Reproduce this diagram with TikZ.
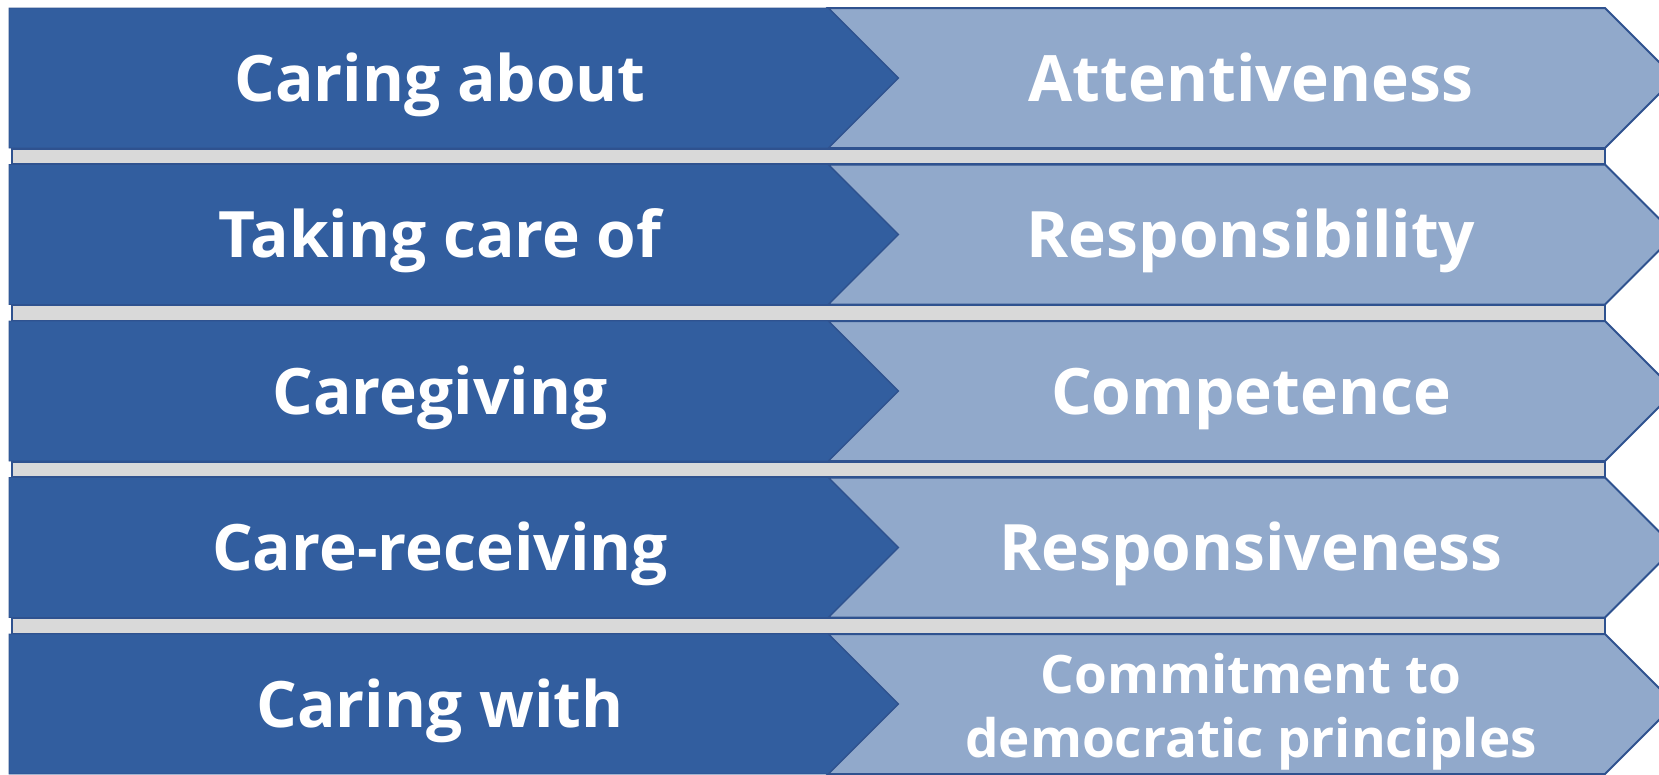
\documentclass[tikz,border=0pt]{standalone}
\usepackage{fontspec}
\setmainfont{Open Sans}
\usepackage{tikz}
\usetikzlibrary{positioning,calc}
\definecolor{ckDark}{RGB}{50,94,159}
\definecolor{ckLight}{RGB}{145,169,203}
\definecolor{ckLine}{RGB}{47,82,143}
\definecolor{ckBar}{RGB}{217,217,217}

\begin{document}
\begin{tikzpicture}[
  x=1pt, y=-1pt,
  darkarr/.style={fill=ckDark, draw=ckLine, line width=0.8pt},
  lightarr/.style={fill=ckLight, draw=ckLine, line width=2pt, line join=miter},
  sepbar/.style={fill=ckBar, draw=ckLine, line width=1.5pt},
  lab/.style={text=white, font=\fontsize{64}{64}\selectfont\bfseries, inner sep=0pt, align=center, anchor=base},
]
\clip (0,0) rectangle (1659,774);
% rows: dark block + light chevron
\foreach \t in {8,164.5,321,477.5,634}{
  \draw[lightarr] (828,\t) -- (1605,\t) -- (1675,\t+70) -- (1605,\t+140)
    -- (828,\t+140) -- (898,\t+70) -- cycle;
  \draw[darkarr] (9,\t) -- (828,\t) -- (898,\t+70) -- (828,\t+140) -- (9,\t+140) -- cycle;
}
% separators
\foreach \t in {148,304.5,461,617.5}
  \draw[sepbar] (12,\t+1) rectangle (1605,\t+16);
% left labels
\node[lab] (about) at (440,101) {Caring about};
\node[lab] (takecare) at (440,257.5) {Taking care of};
\node[lab] (giving) at (440,414) {Caregiving};
\node[lab] (receiving) at (440,570.5) {Care-receiving};
\node[lab] (with) at (440,727) {Caring with};
% right labels
\node[lab] (attent) at (1251,101) {Attentiveness};
\node[lab] (respons) at (1251,257.5) {Responsibility};
\node[lab] (compet) at (1251,414) {Competence};
\node[lab] (respnsv) at (1251,570.5) {Responsiveness};
\node[lab, font=\fontsize{53}{64}\selectfont\bfseries] (commit) at (1251,757)
  {Commitment to\\democratic principles};
\end{tikzpicture}
\end{document}
